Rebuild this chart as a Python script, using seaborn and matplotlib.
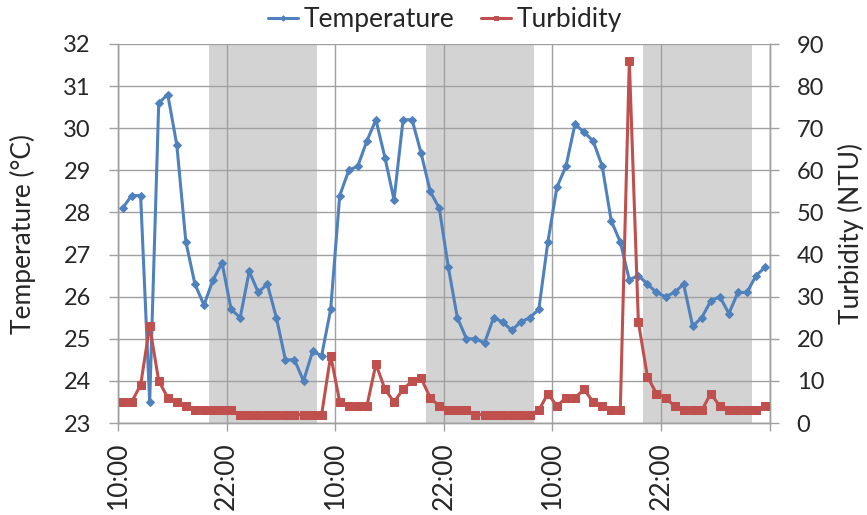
import numpy as np
import pandas as pd
import matplotlib
matplotlib.use("Agg")
import matplotlib.pyplot as plt
import seaborn as sns

# hours since 10:00 on day 1 (hourly samples at half past)
hours = np.arange(0.5, 72, 1.0)

temperature = [28.1, 28.4, 28.4, 23.5, 30.6, 30.8, 29.6, 27.3, 26.3, 25.8,
               26.4, 26.8, 25.7, 25.5, 26.6, 26.1, 26.3, 25.5, 24.5, 24.5,
               24.0, 24.7, 24.6, 25.7, 28.4, 29.0, 29.1, 29.7, 30.2, 29.3,
               28.3, 30.2, 30.2, 29.4, 28.5, 28.1, 26.7, 25.5, 25.0, 25.0,
               24.9, 25.5, 25.4, 25.2, 25.4, 25.5, 25.7, 27.3, 28.6, 29.1,
               30.1, 29.9, 29.7, 29.1, 27.8, 27.3, 26.4, 26.5, 26.3, 26.1,
               26.0, 26.1, 26.3, 25.3, 25.5, 25.9, 26.0, 25.6, 26.1, 26.1,
               26.5, 26.7]

turbidity = [5, 5, 9, 23, 10, 6, 5, 4, 3, 3,
             3, 3, 3, 2, 2, 2, 2, 2, 2, 2,
             2, 2, 2, 16, 5, 4, 4, 4, 14, 8,
             5, 8, 10, 10.6, 6, 4, 3, 3, 3, 2,
             2, 2, 2, 2, 2, 2, 3, 7, 4, 6,
             6, 8, 5, 4, 3, 3, 86, 24, 11, 7,
             6, 4, 3, 3, 3, 7, 4, 3, 3, 3,
             3, 4]

night_start = [10, 34, 58]
night_end = [22, 46, 70]

tick_hours = [0, 12, 24, 36, 48, 60, 72]
tick_labels = ["10:00", "22:00", "10:00", "22:00", "10:00", "22:00", ""]

df = pd.DataFrame({"hours": hours, "Temperature": temperature, "Turbidity": turbidity})

sns.set_style("white")
plt.rcParams['font.family'] = ['Lato', 'DejaVu Sans']

BLUE = "#4F81BD"
RED = "#C0504D"
GRID = "#A0A0A0"
FS_Y = 17
FS_X = 19
FS_LAB = 19
FS_LEG = 19

W, H = 867, 515
fig = plt.figure(figsize=(W / 100, H / 100), dpi=100)
L, R, T, B = 118, 769.6, 44, 423
ax = fig.add_axes([L / W, 1 - B / H, (R - L) / W, (B - T) / H])

for s, e in zip(night_start, night_end):
    ax.axvspan(s, e, color="#D3D3D3", lw=0, zorder=0)

sns.lineplot(data=df, x="hours", y="Temperature", ax=ax, color=BLUE, lw=2.2,
             marker="D", markersize=4.5, markeredgecolor=BLUE, label="Temperature",
             legend=False, zorder=3)

ax2 = ax.twinx()
sns.lineplot(data=df, x="hours", y="Turbidity", ax=ax2, color=RED, lw=2.2,
             marker="s", markersize=5.5, markeredgecolor=RED, label="Turbidity",
             legend=False, zorder=3)

ax.set_xlim(0, 72)
ax.set_ylim(23, 32)
ax2.set_ylim(0, 90)
ax.set_yticks(np.arange(23, 33, 1))
ax2.set_yticks(np.arange(0, 100, 10))
ax.set_xticks(tick_hours)
ax.set_xticklabels(tick_labels, rotation=90, fontsize=FS_X)
ax.tick_params(axis="y", labelsize=FS_Y, length=6.5, color=GRID, width=1, direction="out", left=True, pad=13)
ax.tick_params(axis="x", length=6, color=GRID, width=1, direction="out", bottom=True, pad=7.5)
ax2.tick_params(axis="y", labelsize=FS_Y, length=6.5, color=GRID, width=1, direction="out", right=True, pad=13)

ax.grid(True, color=GRID, lw=1, zorder=1)
ax.set_axisbelow(True)
for a in (ax, ax2):
    for sp in a.spines.values():
        sp.set_color(GRID)
        sp.set_linewidth(1)
    a.spines["top"].set_visible(False)

ax.set_xlabel("")
ax.set_ylabel("Temperature (°C)", fontsize=FS_LAB)
ax.yaxis.label.set_va("center")
ax.yaxis.set_label_coords((23 - L) / (R - L), 0.5)
ax2.set_ylabel("Turbidity (NTU)", fontsize=FS_LAB)
ax2.yaxis.label.set_va("center")
ax2.yaxis.set_label_coords((851 - L) / (R - L), 0.5)

h1, l1 = ax.get_legend_handles_labels()
h2, l2 = ax2.get_legend_handles_labels()
fig.legend(h1 + h2, l1 + l2, loc="center", bbox_to_anchor=(445 / W, 1 - 20 / H),
           ncol=2, frameon=False, fontsize=FS_LEG, handlelength=1.15, handletextpad=0.2,
           columnspacing=1.0, markerscale=0.6, borderpad=0)

fig.savefig("out.png", dpi=100)
